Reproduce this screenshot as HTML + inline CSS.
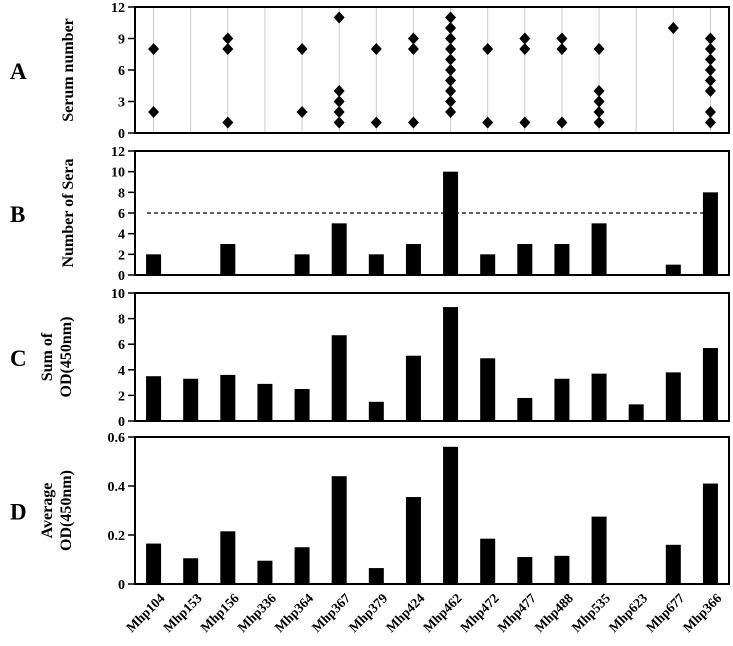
<!DOCTYPE html>
<html><head><meta charset="utf-8"><style>
body{margin:0;background:#fff}
svg text{font-family:"Liberation Serif",serif;font-weight:bold;fill:#000}
</style></head><body>
<svg id="chart" width="733" height="641" xmlns="http://www.w3.org/2000/svg"></svg>
<script>
const categories=["Mhp104","Mhp153","Mhp156","Mhp336","Mhp364","Mhp367","Mhp379","Mhp424","Mhp462","Mhp472","Mhp477","Mhp488","Mhp535","Mhp623","Mhp677","Mhp366"];
const serumHits=[[2,8],[],[1,8,9],[],[2,8],[1,2,3,4,11],[1,8],[1,8,9],[2,3,4,5,6,7,8,9,10,11],[1,8],[1,8,9],[1,8,9],[1,2,3,4,8],[],[10],[1,2,4,5,6,7,8,9]];
const seraCounts=[2,0,3,0,2,5,2,3,10,2,3,3,5,0,1,8];
const thresholdValue=6;
const sumOD=[3.5,3.3,3.6,2.9,2.5,6.7,1.5,5.1,8.9,4.9,1.8,3.3,3.7,1.3,3.8,5.7];
const avgOD=[0.165,0.105,0.215,0.095,0.15,0.44,0.065,0.355,0.56,0.185,0.11,0.115,0.275,0,0.16,0.41];
const ticksA=[0,3,6,9,12], ticksB=[0,2,4,6,8,10,12], ticksC=[0,2,4,6,8,10], ticksD=[0,0.2,0.4,0.6];
const tickLabelsD=["0","0.2","0.4","0.6"];

const svg=document.getElementById('chart');
const NS="http://www.w3.org/2000/svg";
function mk(tag,attrs,parent){const e=document.createElementNS(NS,tag);for(const k in attrs)e.setAttribute(k,attrs[k]);(parent||svg).appendChild(e);return e;}
const L=135,R=729,W=(R-L)/categories.length;
const xc=i=>L+W*(i+0.5);
const panels=[
 {id:'a',top:7,bot:133,max:12,ticks:ticksA,labels:ticksA.map(String),letter:'A',title:['Serum number'],tx:[73]},
 {id:'b',top:151,bot:275,max:12,ticks:ticksB,labels:ticksB.map(String),letter:'B',title:['Number of Sera'],tx:[73]},
 {id:'c',top:293,bot:421,max:10,ticks:ticksC,labels:ticksC.map(String),letter:'C',title:['Sum of','OD(450nm)'],tx:[52,71]},
 {id:'d',top:437,bot:584,max:0.6,ticks:ticksD,labels:tickLabelsD,letter:'D',title:['Average','OD(450nm)'],tx:[52,71]}
];
panels.forEach(p=>{
 p.y=v=>p.bot-(v/p.max)*(p.bot-p.top);
 const g=mk('g',{});
 
 
 const lt=mk('text',{x:10,y:(p.top+p.bot)/2+9,'font-size':23},g);lt.textContent=p.letter;
 
 
 const cy=(p.top+p.bot)/2;
 p.title.forEach((t,k)=>{
  const x=p.tx[k];
  const tt=mk('text',{x:x,y:cy,'font-size':16,'text-anchor':'middle',transform:`rotate(-90 ${x} ${cy})`},g);tt.textContent=t;
  
  
 });
 p.ticks.forEach((v,k)=>{
  const y=p.y(v);
  mk('line',{x1:128,x2:L,y1:y,y2:y,stroke:'#000','stroke-width':1.5},g);
  const tl=mk('text',{x:125,y:y+5,'font-size':14,'text-anchor':'end'},g);tl.textContent=p.labels[k];
  
  
 });
 p.g=g;
});
const pa=panels[0];
categories.forEach((c,i)=>{
 mk('line',{x1:xc(i),x2:xc(i),y1:pa.top,y2:pa.bot,stroke:'#ccc','stroke-width':1},pa.g);
 serumHits[i].forEach(v=>{
  const x=xc(i),y=pa.y(v),s=6;
  const d=mk('polygon',{points:`${x},${y-s} ${x+s-0.5},${y} ${x},${y+s} ${x-s+0.5},${y}`,fill:'#000'},pa.g);
  
  
 });
});
function bars(p,vals){
 vals.forEach((v,i)=>{
  const y=p.y(v);
  const b=mk('rect',{x:xc(i)-7.5,y:y,width:15,height:p.bot-y,fill:'#000'},p.g);
  
  
 });
}
const pb=panels[1];
const ty=pb.y(thresholdValue);
const dl=mk('line',{x1:L+12,x2:R-12,y1:ty,y2:ty,stroke:'#000','stroke-width':1.3,'stroke-dasharray':'4,3'},pb.g);


bars(pb,seraCounts);
bars(panels[2],sumOD);
bars(panels[3],avgOD);
panels.forEach(p=>{
 mk('rect',{x:L,y:p.top,width:R-L,height:p.bot-p.top,fill:'none',stroke:'#000','stroke-width':2},p.g);
});
categories.forEach((c,i)=>{
 const x=xc(i)+12,y=599;
 const t=mk('text',{x:x,y:y,'font-size':13.5,'text-anchor':'end',transform:`rotate(-45 ${x} ${y})`});
 t.textContent=c;
 
 
});
</script>
</body></html>
